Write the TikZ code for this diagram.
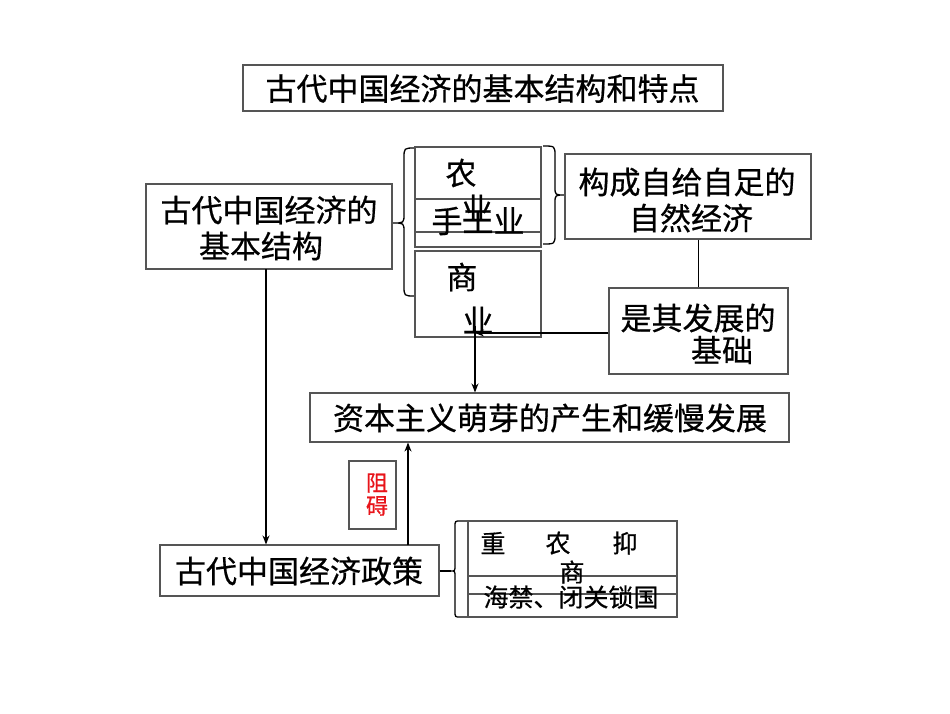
\documentclass[tikz,border=0pt]{standalone}
\usepackage{fontspec}
\setmainfont{Noto Sans CJK SC}[FakeBold=0.6,AutoFakeBold=0.6]
\usetikzlibrary{arrows.meta,fit}
\definecolor{boxgray}{HTML}{555555}
\definecolor{zured}{HTML}{E8141A}
\begin{document}
\begin{tikzpicture}[x=1pt,y=-1pt,
  box/.style={draw=boxgray, line width=1.1pt, inner sep=0pt},
  big/.style={font=\fontsize{31}{36}\selectfont\bfseries, inner sep=0pt},
  mid/.style={font=\fontsize{25}{30}\selectfont\bfseries, inner sep=0pt},
  small/.style={font=\fontsize{22}{26}\selectfont\bfseries, inner sep=0pt, text=zured},
  conn/.style={draw=black, line width=1.2pt},
  arr/.style={conn, -{Stealth[length=9pt,width=7pt]}},
  bracepath/.style={draw=black, line width=1.3pt}
]
\useasboundingbox (0,0) rectangle (950,713);

% title
\node[box, fit={(243,65) (723,111)}] (title) {};
\node[big] (titlet) at (482.5,88.5) {古代中国经济的基本结构和特点};

% basic structure box
\node[box, fit={(146,184) (392,269)}] (base) {};
\node[big] (baset1) at (269,210) {古代中国经济的};
\node[big] (baset2) at (261,246) {基本结构};

% left brace
\draw[bracepath] (415,148) .. controls (404,148) .. (404,158) -- (404,214)
  .. controls (404,223) .. (393,223) .. controls (404,223) .. (404,232)
  -- (404,286) .. controls (404,296) .. (415,296);

% agriculture / handicraft / commerce boxes
\node[box, fit={(415,147) (541,232)}] (agri) {};
\node[box, fit={(415,199) (541,247)}] (hand) {};
\node[box, fit={(415,251) (541,337)}] (comm) {};
\node[big] (agrit1) at (461,173) {农};
\node[big] (agrit2) at (477,208) {业};
\node[big] (handt) at (478,221) {手工业};
\node[big] (commt1) at (462,277) {商};
\node[big] (commt2) at (478,320) {业};

% right brace
\draw[bracepath] (543,146) .. controls (555,146) .. (555,156) -- (555,187)
  .. controls (555,195) .. (565,195) .. controls (555,195) .. (555,203)
  -- (555,234) .. controls (555,244) .. (543,244);

% natural economy box
\node[box, fit={(565,154) (811,239)}] (nat) {};
\node[big] (natt1) at (687,182) {构成自给自足的};
\node[big] (natt2) at (691,218) {自然经济};

% foundation box
\node[box, fit={(609,288) (788,374)}] (fnd) {};
\node[big] (fndt1) at (698,318) {是其发展的};
\node[big] (fndt2) at (722,350) {基础};

\draw[conn] (fnd.north |- nat.south) -- (fnd.north);

% capitalism box
\node[box, fit={(310,393) (789,442)}] (cap) {};
\node[big] (capt) at (550,418) {资本主义萌芽的产生和缓慢发展};

\coordinate (j) at (475,333);
\coordinate (jtop) at (475,326);
\draw[arr] (fnd.west |- j) -- (j);
\draw[arr] (jtop) -- (jtop |- cap.north);

% policy box
\node[box, fit={(160,545) (439,596)}] (pol) {};
\node[big] (polt) at (299,571) {古代中国经济政策};

\coordinate (d1) at (266,269);
\draw[arr] (d1) -- (d1 |- pol.north);
\coordinate (u1) at (408,545);
\draw[arr] (u1) -- (u1 |- cap.south);

% hinder box
\node[box, fit={(349,461) (396,529)}] (hin) {};
\node[small] (hint1) at (377,483) {阻};
\node[small] (hint2) at (377,506) {碍};

% policy brace
\coordinate (pb) at (451,571);
\draw[conn] (pol.east |- pb) -- (pb);
\draw[bracepath] (468,521) -- (460,521) .. controls (455,521) .. (455,527) -- (455,565)
  .. controls (455,571) .. (451,571) .. controls (455,571) .. (455,577)
  -- (455,611) .. controls (455,617) .. (460,617) -- (468,617);

% policy items
\node[box, fit={(468,521) (677,594)}] (pola) {};
\node[box, fit={(468,576) (677,617)}] (polb) {};
\node[mid] (pa1) at (493,543) {重};
\node[mid] (pa2) at (558,543) {农};
\node[mid] (pa3) at (625,543) {抑};
\node[mid] (pa4) at (572,572) {商};
\node[mid] (pbt) at (571,597) {海禁、闭关锁国};
\end{tikzpicture}
\end{document}
